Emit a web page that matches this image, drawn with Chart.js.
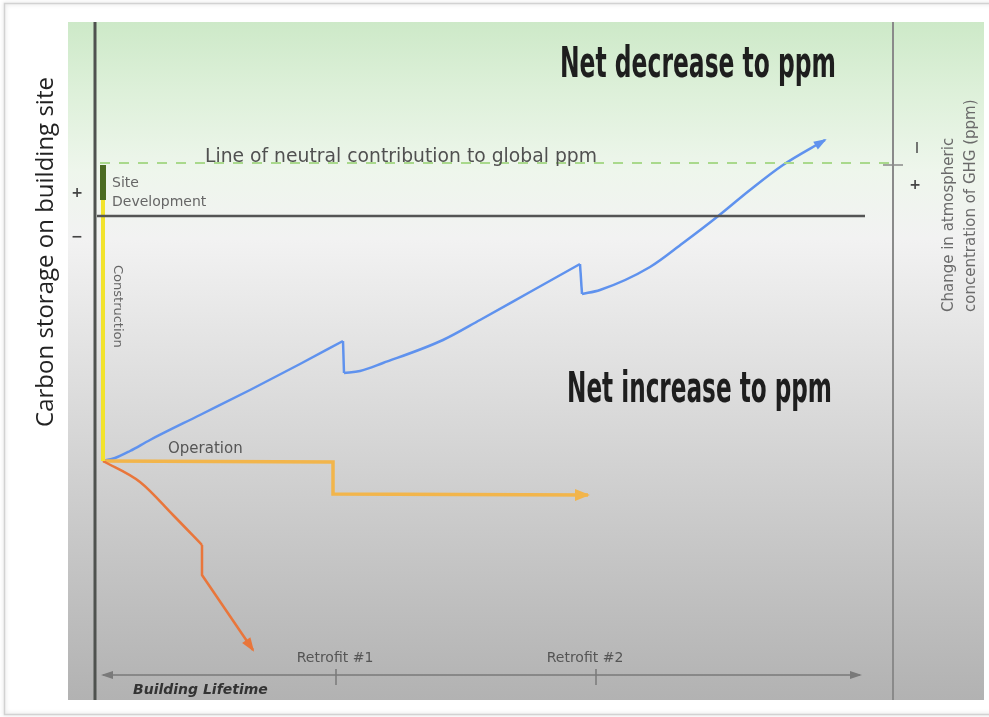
<!DOCTYPE html>
<html>
<head>
<meta charset="utf-8">
<script src="https://cdn.jsdelivr.net/npm/chart.js@4"></script>
<style>
html,body{margin:0;padding:0;background:#fff;}
#c{display:block;}
</style>
</head>
<body>
<canvas id="c" width="989" height="717"></canvas>
<script>
// ---- data (abstract units: x = building lifetime, y = carbon stored on site) ----
const xMin = -3.5, xMax = 88.1, yMin = -48.4, yMax = 19.4;

const netX = [0, 1.2, 2.7, 4.7, 9.7, 14.7, 19.7, 24.0, 24.1, 25.7, 28.0, 34.0, 37.7, 42.7, 47.7, 47.9, 49.7, 54.7, 58.0, 61.4, 64.7, 68.0, 72.2];
const netY = [-24.5, -24.2, -23.5, -22.4, -19.9, -17.4, -14.8, -12.5, -15.7, -15.5, -14.7, -12.4, -10.4, -7.6, -4.8, -7.8, -7.4, -5.1, -2.7, -0.1, 2.6, 5.1, 7.6];
const netBreaks = [7, 14]; // indexes where a retrofit causes a drop

const operationX = [0, 23.0, 23.0, 48.5];
const operationY = [-24.5, -24.6, -27.8, -27.9];

const lossX = [0, 3.7, 7.0, 9.9, 9.9, 15.0];
const lossY = [-24.5, -26.6, -29.9, -32.9, -35.9, -43.4];
const lossBreak = 3;

const constructionX = [0, 0];
const constructionY = [1.6, -24.5];

const siteDevX = [0, 0];
const siteDevY = [5.1, 1.6];

const neutralX = [-0.6, 76.2];
const neutralY = 0;

const ppmNeutralX = [-0.3, 78.7];
const ppmNeutralY = 5.3;

const lifetimeX = [0, 75.7];
const lifetimeY = -45.9;
const retrofitX = [23.3, 49.3];
const retrofitLabels = ['Retrofit #1', 'Retrofit #2'];

const leftAxisX = -0.8;
const rightAxisX = 79.0;

// ---- helpers ----
function pts(xs, ys) { return xs.map((x, i) => ({ x: x, y: Array.isArray(ys) ? ys[i] : ys })); }
function sub(xs, ys, a, b) { return pts(xs.slice(a, b + 1), ys.slice(a, b + 1)); }

const blue = { borderColor: '#5f92ee', borderWidth: 2.5 };
const smooth = { cubicInterpolationMode: 'monotone' };
const nLast = netX.length - 1;
const red = { borderColor: '#e9763b', borderWidth: 2.5 };

const datasets = [
  { data: pts([leftAxisX, leftAxisX], [yMin, yMax]), borderColor: '#4f524f', borderWidth: 3 },
  { data: pts([rightAxisX, rightAxisX], [yMin, yMax]), borderColor: '#8a8a8a', borderWidth: 2 },
  { data: pts([rightAxisX - 1.0, rightAxisX + 1.0], ppmNeutralY - 0.2), borderColor: '#8a8a8a', borderWidth: 1.5 },
  { data: pts(ppmNeutralX, ppmNeutralY), borderColor: '#a9d98c', borderWidth: 2, borderDash: [10, 9] },
  { data: pts(neutralX, neutralY), borderColor: '#545454', borderWidth: 2.5 },
  { data: pts(lifetimeX, lifetimeY), borderColor: '#7a7a7a', borderWidth: 1.5, arrowStart: true, arrowEnd: true, arrowColor: '#7a7a7a', arrowLen: 10, arrowHalf: 4 },
  { data: pts([retrofitX[0], retrofitX[0]], [lifetimeY + 0.6, lifetimeY - 1.0]), borderColor: '#7a7a7a', borderWidth: 1.5 },
  { data: pts([retrofitX[1], retrofitX[1]], [lifetimeY + 0.6, lifetimeY - 1.0]), borderColor: '#7a7a7a', borderWidth: 1.5 },
  { data: pts(constructionX, constructionY), borderColor: '#f2e32c', borderWidth: 4 },
  { data: pts(siteDevX, siteDevY), borderColor: '#4b6b22', borderWidth: 6 },
  Object.assign({ data: sub(lossX, lossY, 0, lossBreak), tension: 0.4 }, red, smooth),
  Object.assign({ data: sub(lossX, lossY, lossBreak, lossX.length - 1), arrowEnd: true, arrowColor: '#e9763b', arrowLen: 12, arrowHalf: 5 }, red),
  { data: pts(operationX, operationY), borderColor: '#f2b54b', borderWidth: 3.5, arrowEnd: true, arrowColor: '#f2b54b', arrowLen: 13, arrowHalf: 6 },
  Object.assign({ data: sub(netX, netY, 0, netBreaks[0]), tension: 0.4 }, blue, smooth),
  Object.assign({ data: sub(netX, netY, netBreaks[0], netBreaks[0] + 1) }, blue),
  Object.assign({ data: sub(netX, netY, netBreaks[0] + 1, netBreaks[1]), tension: 0.4 }, blue, smooth),
  Object.assign({ data: sub(netX, netY, netBreaks[1], netBreaks[1] + 1) }, blue),
  Object.assign({ data: sub(netX, netY, netBreaks[1] + 1, nLast), tension: 0.4, arrowEnd: true, arrowColor: '#5f92ee', arrowLen: 11, arrowHalf: 4.5 }, blue, smooth)
];

function arrowHead(ctx, tip, from, len, half, color) {
  const a = Math.atan2(tip.y - from.y, tip.x - from.x);
  ctx.save();
  ctx.translate(tip.x, tip.y);
  ctx.rotate(a);
  ctx.beginPath();
  ctx.moveTo(2, 0);
  ctx.lineTo(-len, -half);
  ctx.lineTo(-len, half);
  ctx.closePath();
  ctx.fillStyle = color;
  ctx.fill();
  ctx.restore();
}

const backgroundPlugin = {
  id: 'bg',
  beforeDraw(chart) {
    const ctx = chart.ctx, a = chart.chartArea;
    ctx.save();
    ctx.fillStyle = '#ffffff';
    ctx.fillRect(0, 0, chart.width, chart.height);
    // card frame
    ctx.strokeStyle = '#d2d2d2';
    ctx.lineWidth = 1.5;
    ctx.shadowColor = 'rgba(0,0,0,0.18)';
    ctx.shadowBlur = 4;
    ctx.strokeRect(4.5, 3.5, chart.width + 20, 711);
    ctx.shadowBlur = 0;
    // panel gradient
    const g = ctx.createLinearGradient(0, a.top, 0, a.bottom);
    g.addColorStop(0.00, '#cde9c8');
    g.addColorStop(0.10, '#ddf0d9');
    g.addColorStop(0.22, '#eef6ec');
    g.addColorStop(0.32, '#f2f2f2');
    g.addColorStop(0.55, '#dcdcdc');
    g.addColorStop(0.80, '#c4c4c4');
    g.addColorStop(1.00, '#b2b2b2');
    ctx.fillStyle = g;
    ctx.fillRect(a.left, a.top, a.right - a.left, a.bottom - a.top);
    ctx.restore();
  }
};

const overlayPlugin = {
  id: 'overlay',
  afterDatasetsDraw(chart) {
    const ctx = chart.ctx;
    chart.data.datasets.forEach((ds, i) => {
      const m = chart.getDatasetMeta(i).data;
      if (ds.arrowEnd) arrowHead(ctx, m[m.length - 1], m[m.length - 2], ds.arrowLen, ds.arrowHalf, ds.arrowColor);
      if (ds.arrowStart) arrowHead(ctx, m[0], m[1], ds.arrowLen, ds.arrowHalf, ds.arrowColor);
    });

    const xs = chart.scales.x;
    ctx.save();
    ctx.textBaseline = 'alphabetic';

    // big labels
    ctx.fillStyle = '#1e1e1e';
    ctx.font = 'bold 42px "DejaVu Sans"';
    ctx.textAlign = 'left';
    ctx.fillText('Net decrease to ppm', 560, 77, 276);
    ctx.fillText('Net increase to ppm', 567, 402, 265);

    // neutral line label
    ctx.fillStyle = '#505050';
    ctx.font = '19px "DejaVu Sans"';
    ctx.fillText('Line of neutral contribution to global ppm', 205, 162, 392);

    // site development
    ctx.fillStyle = '#666';
    ctx.font = '14px "DejaVu Sans"';
    ctx.fillText('Site', 112, 187, 32);
    ctx.fillText('Development', 112, 206, 105);

    // operation
    ctx.fillStyle = '#555';
    ctx.font = '15px "DejaVu Sans"';
    ctx.fillText('Operation', 168, 453, 80);

    // retrofit labels
    ctx.font = '14px "DejaVu Sans"';
    ctx.textAlign = 'center';
    ctx.fillStyle = '#555';
    retrofitLabels.forEach((t, i) => {
      ctx.fillText(t, xs.getPixelForValue(retrofitX[i]) - 1 - i * 10, 662, 78);
    });

    // building lifetime
    ctx.textAlign = 'left';
    ctx.fillStyle = '#333';
    ctx.font = 'italic bold 14px "DejaVu Sans"';
    ctx.fillText('Building Lifetime', 133, 694, 138);

    // construction (rotated, top to bottom)
    ctx.save();
    ctx.translate(114, 265);
    ctx.rotate(Math.PI / 2);
    ctx.fillStyle = '#666';
    ctx.font = '13px "DejaVu Sans"';
    ctx.textAlign = 'left';
    ctx.fillText('Construction', 0, 0, 106);
    ctx.restore();

    // left axis title
    ctx.save();
    ctx.translate(53, 252);
    ctx.rotate(-Math.PI / 2);
    ctx.fillStyle = '#222';
    ctx.font = '24px "Open Sans"';
    ctx.textAlign = 'center';
    ctx.fillText('Carbon storage on building site', 0, 0, 376);
    ctx.restore();

    // right axis title
    ctx.save();
    ctx.translate(953, 312);
    ctx.rotate(-Math.PI / 2);
    ctx.fillStyle = '#6a6a6a';
    ctx.font = '15px "DejaVu Sans"';
    ctx.textAlign = 'left';
    ctx.fillText('Change in atmospheric', 0, 0, 234);
    ctx.fillText('concentration of GHG (ppm)', 0, 22, 262);
    ctx.restore();

    // plus / minus signs
    ctx.fillStyle = '#444';
    ctx.font = 'bold 14px "DejaVu Sans"';
    ctx.textAlign = 'center';
    ctx.textBaseline = 'middle';
    ctx.fillText('+', 77, 193);
    ctx.fillText('\u2212', 77, 237);
    ctx.fillText('+', 915, 185);
    ctx.strokeStyle = '#555';
    ctx.lineWidth = 1.6;
    ctx.beginPath();
    ctx.moveTo(917, 142);
    ctx.lineTo(917, 153);
    ctx.stroke();

    ctx.restore();
  }
};

new Chart(document.getElementById('c'), {
  type: 'line',
  data: { datasets: datasets.map(d => Object.assign({ pointRadius: 0, fill: false, tension: 0, clip: false }, d)) },
  options: {
    responsive: false,
    animation: false,
    events: [],
    layout: { padding: { left: 68, top: 22, right: 5, bottom: 17 } },
    plugins: { legend: { display: false }, tooltip: { enabled: false } },
    scales: {
      x: { type: 'linear', min: xMin, max: xMax, display: false },
      y: { type: 'linear', min: yMin, max: yMax, display: false }
    }
  },
  plugins: [backgroundPlugin, overlayPlugin]
});
</script>
</body>
</html>
